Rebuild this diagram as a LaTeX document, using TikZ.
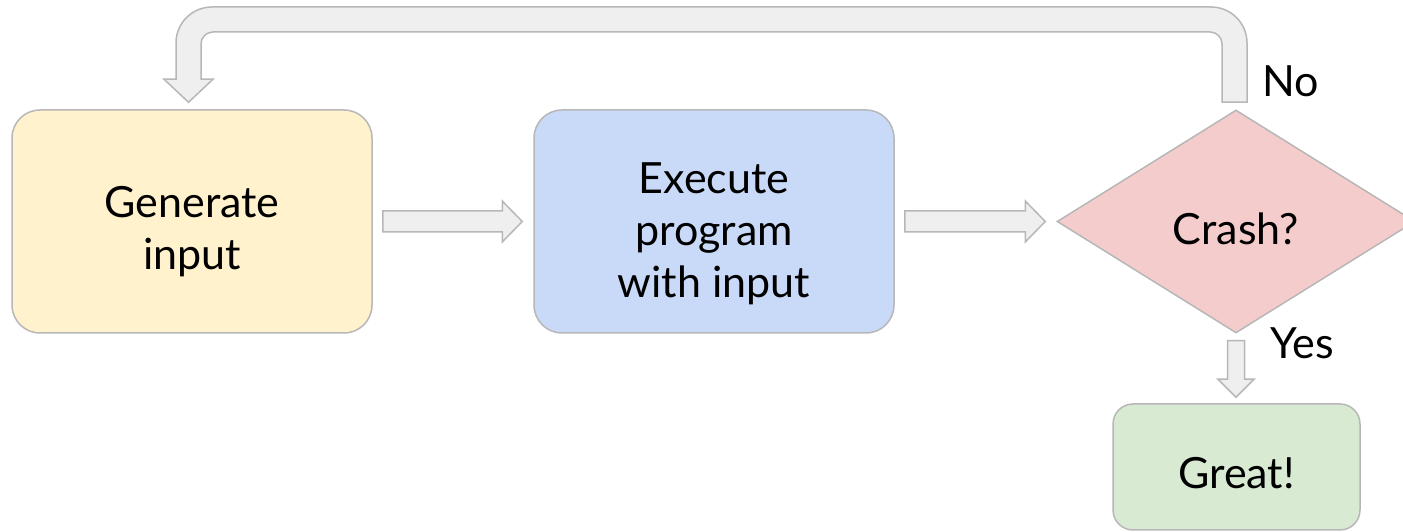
\documentclass[tikz,border=0pt]{standalone}
\usepackage{fontspec}
\setmainfont{Lato}
\usetikzlibrary{shapes.geometric,calc}

\definecolor{edgegray}{HTML}{B7B7B7}
\definecolor{arrowfill}{HTML}{EFEFEF}
\definecolor{genfill}{HTML}{FFF2CC}
\definecolor{exefill}{HTML}{C9DAF8}
\definecolor{crashfill}{HTML}{F4CCCC}
\definecolor{greatfill}{HTML}{D9EAD3}

\tikzset{
  box/.style={shape=rectangle, draw=edgegray, line width=1.5pt,
    rounded corners=28pt, inner sep=0pt},
  decision/.style={shape=diamond, draw=edgegray, line width=1.5pt,
    inner sep=0pt},
  txt/.style={align=center, inner sep=0pt,
    font=\fontsize{43pt}{52pt}\selectfont},
  blk/.style={draw=edgegray, fill=arrowfill, line width=1.5pt,
    line join=miter},
}

% horizontal block arrow from #1 to the tip #2
\newcommand\rightblock[2]{%
  \draw[blk] let \p1=(#1), \p2=(#2) in
    (\x1,\y1-10.5pt) -- (\x2-20pt,\y1-10.5pt) -- (\x2-20pt,\y1-20.5pt)
    -- (\x2,\y1) -- (\x2-20pt,\y1+20.5pt) -- (\x2-20pt,\y1+10.5pt)
    -- (\x1,\y1+10.5pt) -- cycle;}
% downward block arrow from #1 to the tip #2
\newcommand\downblock[2]{%
  \draw[blk] let \p1=(#1), \p2=(#2) in
    (\x1-8.5pt,\y1) -- (\x1-8.5pt,\y2+18pt) -- (\x1-18pt,\y2+18pt)
    -- (\x1,\y2) -- (\x1+18pt,\y2+18pt) -- (\x1+8.5pt,\y2+18pt)
    -- (\x1+8.5pt,\y1) -- cycle;}

\begin{document}
\begin{tikzpicture}[x=1pt,y=1pt]
  \useasboundingbox (0,0) rectangle (1403,532);
  \clip (0,0) rectangle (1403,532);

  % process steps
  \node[box, fill=genfill, minimum width=360pt, minimum height=223pt]
    (gen) at (192,310.5) {};
  \node[box, fill=exefill, minimum width=360pt, minimum height=223pt]
    (exe) at (714,310.5) {};
  \node[decision, fill=crashfill, minimum width=358pt, minimum height=223pt]
    (crash) at (1236,310.5) {};
  \node[box, fill=greatfill, rounded corners=20pt,
    minimum width=247pt, minimum height=126pt]
    (great) at (1236.5,65) {};

  % step texts
  \node[txt] (gentxt) at ([yshift=-10pt]gen.center) {Generate\\input};
  \node[txt] (exetxt) at ([yshift=-12.5pt]exe.center) {Execute\\program\\with input};
  \node[txt] (crashtxt) at ([yshift=-7.5pt]crash.center) {Crash?};
  \node[txt] (greattxt) at ([yshift=-6.5pt]great.center) {Great!};

  % straight block arrows
  \coordinate (a1s) at ([xshift=10pt]gen.east);
  \coordinate (a1e) at ([xshift=-11pt]exe.west);
  \rightblock{a1s}{a1e}
  \coordinate (a2s) at ([xshift=10pt]exe.east);
  \coordinate (a2e) at ([xshift=-11pt]crash.west);
  \rightblock{a2s}{a2e}
  \coordinate (a3s) at ([yshift=-7pt]crash.south);
  \coordinate (a3e) at ([yshift=6pt]great.north);
  \downblock{a3s}{a3e}

  % loop back from the decision to the first step
  \coordinate (ls) at ([xshift=-1.5pt,yshift=7pt]crash.north);
  \coordinate (le) at ([xshift=-3.5pt,yshift=7pt]gen.north);
  \coordinate (ltop) at (0,512.5);
  \draw[blk] let \p1=(ls), \p2=(le), \p3=(ltop) in
    (\x1+12.5pt,\y1) -- (\x1+12.5pt,\y3+12.5pt-36pt)
    arc[start angle=0, end angle=90, radius=36pt]
    -- (\x2-12.5pt+36pt,\y3+12.5pt)
    arc[start angle=90, end angle=180, radius=36pt]
    -- (\x2-12.5pt,\y2+23pt) -- (\x2-24.5pt,\y2+23pt) -- (\x2,\y2)
    -- (\x2+24.5pt,\y2+23pt) -- (\x2+12.5pt,\y2+23pt)
    -- (\x2+12.5pt,\y3-12.5pt-12pt)
    arc[start angle=180, end angle=90, radius=12pt]
    -- (\x1-12.5pt-12pt,\y3-12.5pt)
    arc[start angle=90, end angle=0, radius=12pt]
    -- (\x1-12.5pt,\y1) -- cycle;

  % branch labels
  \node[txt, anchor=base west] (no) at ([xshift=26pt,yshift=13pt]crash.north) {No};
  \node[txt, anchor=base west] (yes) at ([xshift=34pt,yshift=-25pt]crash.south) {Yes};
\end{tikzpicture}
\end{document}
